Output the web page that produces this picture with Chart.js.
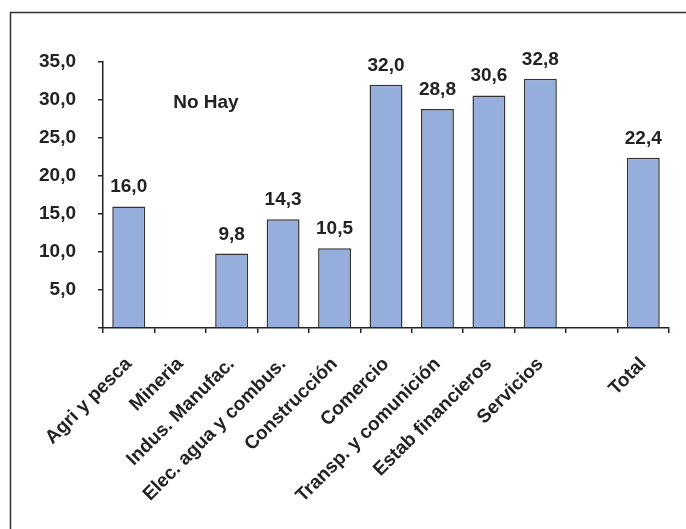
<!DOCTYPE html>
<html>
<head>
<meta charset="utf-8">
<script src="https://cdn.jsdelivr.net/npm/chart.js@4/dist/chart.umd.min.js"></script>
<style>
html,body{margin:0;padding:0;background:#fff;}
#wrap{position:relative;width:686px;height:529px;}
</style>
</head>
<body>
<div id="wrap"><canvas id="c" width="686" height="529"></canvas></div>
<script>
const categories = ['Agri y pesca','Mineria','Indus. Manufac.','Elec. agua y combus.','Construcción','Comercio','Transp. y comunición','Estab financieros','Servicios','','Total'];
const values = [16.0, null, 9.8, 14.3, 10.5, 32.0, 28.8, 30.6, 32.8, null, 22.4];
const yTicks = [0, 5, 10, 15, 20, 25, 30, 35];
const noteText = 'No Hay';
const noteAt = {x: 1.5, y: 29};

const FONT = '"Liberation Sans", Arial, sans-serif';
const TXT = '#222222';
const fmt = v => v.toFixed(1).replace('.', ',');

const framePlugin = {
  id: 'frame',
  beforeDraw(chart) {
    const ctx = chart.ctx;
    ctx.save();
    ctx.strokeStyle = '#333333';
    ctx.lineWidth = 1.5;
    ctx.strokeRect(10.5, 12.5, 800, 700);
    ctx.restore();
  }
};

const labelPlugin = {
  id: 'labels',
  afterDatasetsDraw(chart) {
    const ctx = chart.ctx;
    const meta = chart.getDatasetMeta(0);
    ctx.save();
    ctx.fillStyle = TXT;
    ctx.font = 'bold 19px ' + FONT;
    ctx.textAlign = 'center';
    ctx.textBaseline = 'alphabetic';
    meta.data.forEach((bar, i) => {
      const v = values[i];
      if (v === null || v === undefined) return;
      ctx.fillText(fmt(v), bar.x, bar.y - 14);
    });
    const xs = chart.scales.x, ys = chart.scales.y;
    ctx.fillText(noteText, xs.getPixelForValue(noteAt.x), ys.getPixelForValue(noteAt.y));
    ctx.restore();
  }
};

new Chart(document.getElementById('c'), {
  type: 'bar',
  data: {
    labels: categories,
    datasets: [{
      data: values,
      backgroundColor: '#95AEDB',
      borderColor: '#333333',
      borderWidth: 1.5,
      barPercentage: 0.64,
      categoryPercentage: 1.0
    }]
  },
  options: {
    responsive: false,
    animation: false,
    devicePixelRatio: 1,
    layout: { padding: { left: 0, top: 62, right: 17, bottom: 0 } },
    plugins: { legend: { display: false }, tooltip: { enabled: false } },
    scales: {
      x: {
        offset: true,
        grid: { display: true, offset: true, drawOnChartArea: false, drawTicks: true, tickLength: 5, color: '#222', lineWidth: 1.5 },
        border: { display: true, color: '#222', width: 1.5 },
        ticks: {
          autoSkip: false, minRotation: 45, maxRotation: 45,
          color: TXT, font: { family: FONT, size: 19, weight: 'bold' }, padding: 20
        },
        afterFit(scale) { scale.height = 201; }
      },
      y: {
        min: 0, max: 35,
        afterBuildTicks(scale) { scale.ticks = yTicks.map(v => ({ value: v })); },
        grid: { display: true, drawOnChartArea: false, drawTicks: true, tickLength: 5, color: '#222', lineWidth: 1.5 },
        border: { display: true, color: '#222', width: 1.5 },
        ticks: {
          color: TXT, font: { family: FONT, size: 19, weight: 'bold' }, padding: 22,
          callback: v => v === 0 ? '' : fmt(v)
        },
        afterFit(scale) { scale.width = 103; }
      }
    }
  },
  plugins: [framePlugin, labelPlugin]
});
</script>
</body>
</html>
